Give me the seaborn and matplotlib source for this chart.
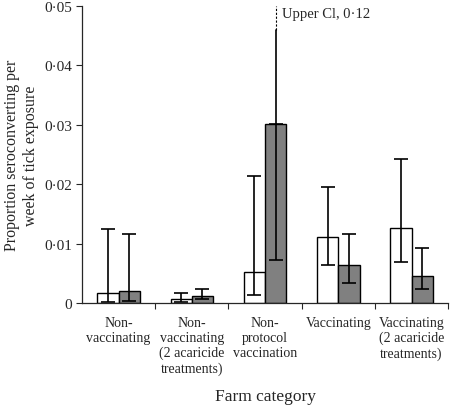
import matplotlib
matplotlib.use("Agg")
import matplotlib.pyplot as plt
import seaborn as sns
import pandas as pd
import numpy as np

categories = ["Non-\nvaccinating", "Non-\nvaccinating\n(2 acaricide\ntreatments)",
              "Non-\nprotocol\nvaccination", "Vaccinating", "Vaccinating\n(2 acaricide\ntreatments)"]
series_names = ["Series A", "Series B"]
values_a = [0.0017, 0.0007, 0.0053, 0.0112, 0.0127]
lower_a = [0.0002, 0.0002, 0.0014, 0.0064, 0.0069]
upper_a = [0.0124, 0.0017, 0.0214, 0.0196, 0.0242]
values_b = [0.0020, 0.0012, 0.0302, 0.0064, 0.0046]
lower_b = [0.0004, 0.0007, 0.0073, 0.0034, 0.0024]
upper_b = [0.0116, 0.0024, 0.12, 0.0116, 0.0092]
y_ticks = [0, 0.01, 0.02, 0.03, 0.04, 0.05]
y_tick_labels = ["0", "0·01", "0·02", "0·03", "0·04", "0·05"]

sns.set_style("ticks")
plt.rcParams['font.family'] = ['Liberation Serif', 'DejaVu Serif']

df = pd.DataFrame({
    "category": categories * 2,
    "series": [series_names[0]] * 5 + [series_names[1]] * 5,
    "value": values_a + values_b,
})

fig = plt.figure(figsize=(4.5, 4.06), dpi=100)
ax = fig.add_axes([0.182, 0.251, 0.814, 0.732])
sns.barplot(data=df, x="category", y="value", hue="series", order=categories,
            hue_order=series_names, palette=["white", "#808080"], width=0.58,
            edgecolor="black", linewidth=1.0, errorbar=None, legend=False, ax=ax)

ymax = 0.05
solid_top = 0.046
bars = ax.patches
for i, (vals, lo, up) in enumerate([(values_a, lower_a, upper_a), (values_b, lower_b, upper_b)]):
    for j in range(5):
        p = bars[i * 5 + j]
        xc = p.get_x() + p.get_width() / 2
        v = vals[j]
        u = up[j]
        if u > ymax:
            ax.errorbar([xc], [v], yerr=[[v - lo[j]], [0]], fmt="none", ecolor="black",
                        elinewidth=1.2, capsize=5, capthick=1.2)
            ax.plot([xc, xc], [v, solid_top], color="black", lw=1.2)
            ax.plot([xc, xc], [solid_top, ymax], color="black", lw=0.8, ls=(0, (2, 1.5)))
            ax.text(xc + 0.08, ymax - 0.0013, "Upper Cl, 0·12", fontsize=10.5, va="center", ha="left")
        else:
            ax.errorbar([xc], [v], yerr=[[v - lo[j]], [u - v]], fmt="none", ecolor="black",
                        elinewidth=1.2, capsize=5, capthick=1.2)

ax.set_xlim(-0.5, 4.5)
ax.set_ylim(0, ymax)
ax.set_yticks(y_ticks)
ax.set_yticklabels(y_tick_labels, fontsize=11)
ax.set_xticks(range(5))
ax.set_xticklabels(categories, fontsize=10, linespacing=1.2)
ax.tick_params(axis="x", which="major", length=0, pad=9)
ax.set_xticks([0.5, 1.5, 2.5, 3.5, 4.5], minor=True)
ax.tick_params(axis="x", which="minor", length=4, width=0.8, direction="out")
ax.tick_params(axis="y", length=4, width=0.8, direction="out", pad=3)
for s in ["top", "right"]:
    ax.spines[s].set_visible(False)
for s in ["left", "bottom"]:
    ax.spines[s].set_linewidth(0.9)
ax.set_xlabel("Farm category", fontsize=12.5)
ax.xaxis.set_label_coords(0.5, -0.285)
ax.set_ylabel("Proportion seroconverting per\nweek of tick exposure", fontsize=11.5,
              linespacing=1.2)
ax.yaxis.set_label_coords(-0.118, 0.5)

fig.savefig("out.png", dpi=100)
